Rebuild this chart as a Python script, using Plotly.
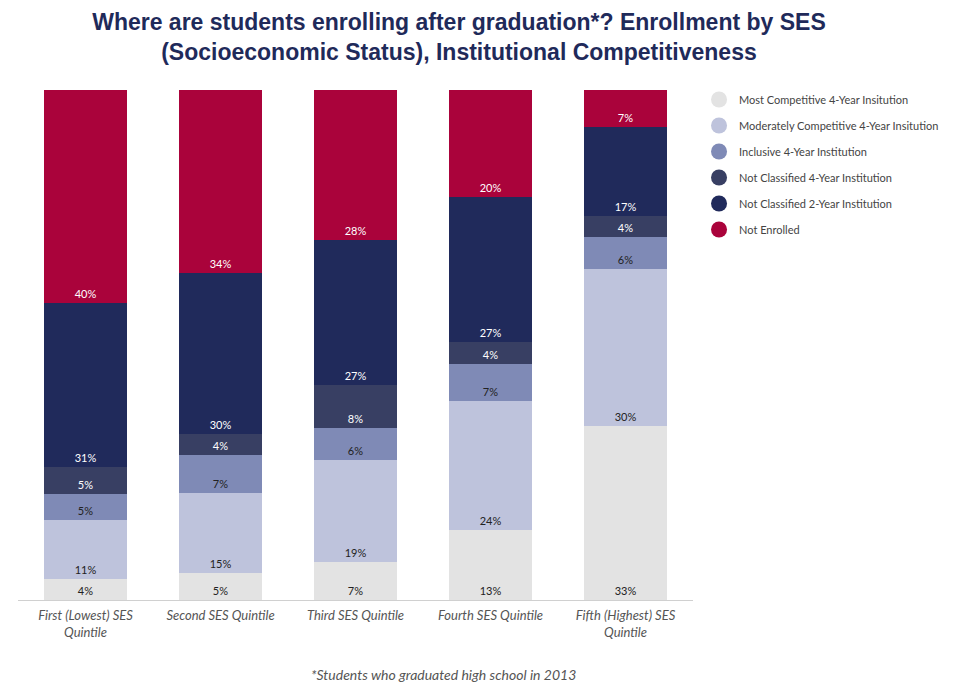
import plotly.graph_objects as go

categories = ["First (Lowest) SES<br>Quintile", "Second SES Quintile", "Third SES Quintile",
              "Fourth SES Quintile", "Fifth (Highest) SES<br>Quintile"]
series_names = ["Most Competitive 4-Year Insitution", "Moderately Competitive 4-Year Insitution",
                "Inclusive 4-Year Institution", "Not Classified 4-Year Institution",
                "Not Classified 2-Year Institution", "Not Enrolled"]
most_competitive = [4, 5, 7, 13, 33]
moderately_competitive = [11, 15, 19, 24, 30]
inclusive = [5, 7, 6, 7, 6]
not_classified_4yr = [5, 4, 8, 4, 4]
not_classified_2yr = [31, 30, 27, 27, 17]
not_enrolled = [40, 34, 28, 20, 7]

values = [most_competitive, moderately_competitive, inclusive,
          not_classified_4yr, not_classified_2yr, not_enrolled]
colors = ["#e3e3e3", "#bec3dc", "#7f8ab6", "#383f63", "#202a5b", "#aa033b"]
text_colors = ["#222222", "#222222", "#222222", "#ffffff", "#ffffff", "#ffffff"]

fig = go.Figure()
for name, vals, col, tcol in zip(series_names, values, colors, text_colors):
    fig.add_trace(go.Bar(
        x=categories, y=vals, name=name, marker_color=col, marker_line_width=0,
        text=[f"{v}%" for v in vals], textposition="inside", insidetextanchor="start",
        textfont=dict(family="Lato", size=11, color=tcol), showlegend=False,
        textangle=0, constraintext="none", hoverinfo="name+y"))

for i, (name, col) in enumerate(zip(series_names, colors)):
    fig.add_trace(go.Scatter(
        x=[None], y=[None], mode="markers", name=name, legendgroup=f"g{i}",
        marker=dict(symbol="circle", size=16, color=col), showlegend=True))

fig.update_layout(
    width=953, height=694,
    barmode="stack", barnorm="percent", bargap=0.385,
    plot_bgcolor="white", paper_bgcolor="white",
    margin=dict(l=18, r=260, t=90, b=94, autoexpand=False),
    title=dict(
        text="Where are students enrolling after graduation*? Enrollment by SES<br>(Socioeconomic Status), Institutional Competitiveness",
        x=0.4816, xref="container", xanchor="center",
        y=0.9568, yref="container", yanchor="top",
        font=dict(family="Liberation Sans", size=23, color="#1f2a5a", weight="bold")),
    legend=dict(x=0.7335, xref="container", xanchor="left",
                y=0.8775, yref="container", yanchor="top",
                font=dict(family="Lato", size=11, color="#444444"),
                tracegroupgap=7, itemsizing="trace", bgcolor="rgba(0,0,0,0)"),
    xaxis=dict(showline=True, linecolor="#d0d0d0", linewidth=1, ticks="",
               ticklabelstandoff=3,
               tickfont=dict(family="Lato", size=13, color="#555555", style="italic")),
    yaxis=dict(visible=False, range=[0, 100], fixedrange=True),
    annotations=[dict(text="*Students who graduated high school in 2013", x=0.631, y=-0.147,
                      xref="paper", yref="paper", xanchor="center", yanchor="middle",
                      showarrow=False,
                      font=dict(family="Lato", size=14, color="#555555", style="italic"))],
)

fig.write_html("out.html")
